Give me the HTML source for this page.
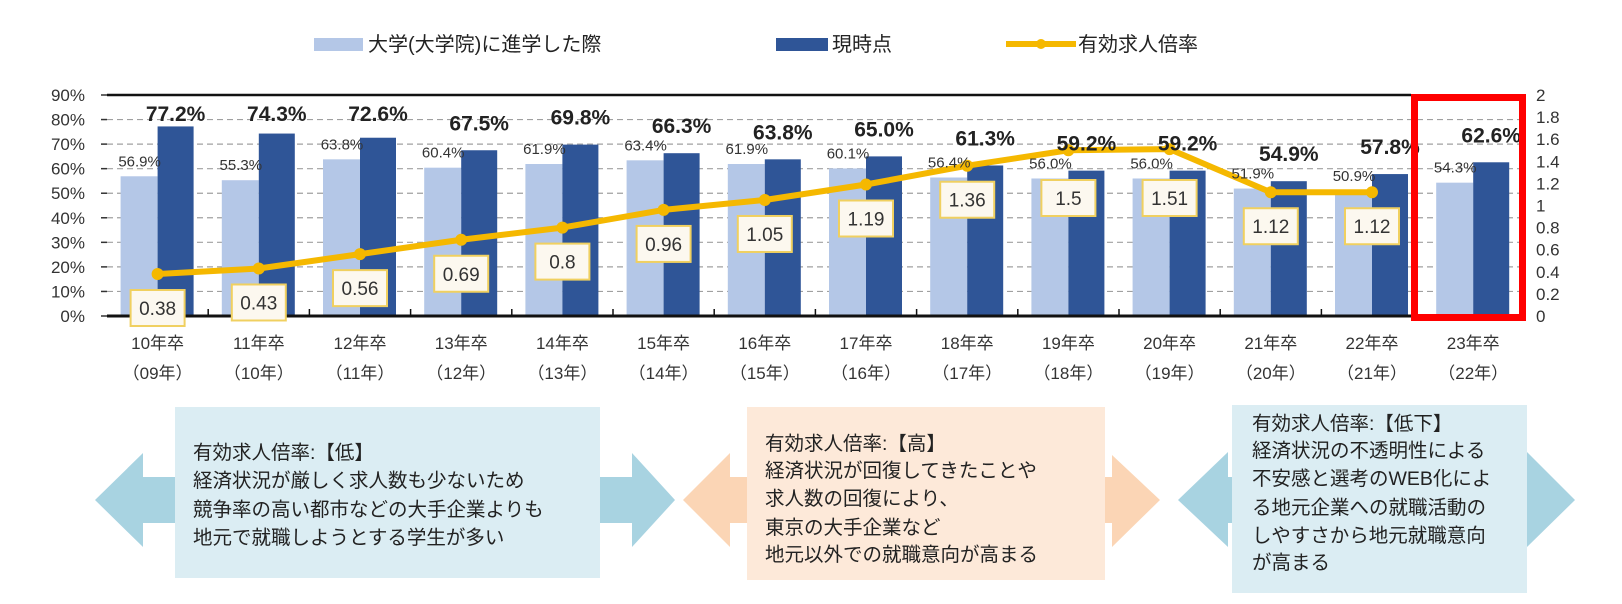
<!DOCTYPE html>
<html><head><meta charset="utf-8">
<style>
html,body{margin:0;padding:0;background:#fff;}
svg{display:block;font-family:"Liberation Sans","Noto Sans CJK JP",sans-serif;}
</style></head>
<body>
<svg id="chart" width="1622" height="604" viewBox="0 0 1622 604">
  <g id="legend">
    <g>
      <rect x="314" y="38" width="49" height="13" fill="#b4c7e7"/>
      <text x="368" y="51" font-size="20" fill="#222">大学(大学院)に進学した際</text>
    </g>
    <g>
      <rect x="776" y="38" width="52" height="13" fill="#2f5597"/>
      <text x="832" y="51" font-size="20" fill="#222">現時点</text>
    </g>
    <g>
      <line x1="1006" y1="44" x2="1076" y2="44" stroke="#f5b800" stroke-width="6"/>
      <circle cx="1041" cy="44" r="5" fill="#f5b800"/>
      <text x="1078" y="51" font-size="20" fill="#222">有効求人倍率</text>
    </g>
  </g>
  <g id="grid"></g>
  <g id="bars"></g>
  <g id="axes"></g>
  <g id="line"></g>
  <g id="labels"></g>
  <g>
    <rect x="1414.5" y="97.5" width="108" height="220" fill="none" stroke="#ff0000" stroke-width="7"/>
  </g>

  <!-- bottom explanation panels -->
  <g>
    <polygon points="175,477 143,477 143,453 95,500 143,547 143,523 175,523" fill="#a8d3e1"/>
    <polygon points="600,477 632,477 632,453 675,500 632,547 632,523 600,523" fill="#a8d3e1"/>
    <rect x="175" y="407" width="425" height="171" fill="#dbedf3"/>
    <text font-size="19.5" fill="#222">
      <tspan x="193" y="459">有効求人倍率:【低】</tspan>
      <tspan x="193" y="487">経済状況が厳しく求人数も少ないため</tspan>
      <tspan x="193" y="516">競争率の高い都市などの大手企業よりも</tspan>
      <tspan x="193" y="544">地元で就職しようとする学生が多い</tspan>
    </text>
  </g>
  <g>
    <polygon points="747,477 730,477 730,453 683,500 730,547 730,523 747,523" fill="#fbd5b5"/>
    <polygon points="1105,477 1112,477 1112,455 1160,500 1112,547 1112,523 1105,523" fill="#fbd5b5"/>
    <rect x="747" y="407" width="358" height="173" fill="#fde9d9"/>
    <text font-size="19.5" fill="#222">
      <tspan x="765" y="450">有効求人倍率:【高】</tspan>
      <tspan x="765" y="477">経済状況が回復してきたことや</tspan>
      <tspan x="765" y="505">求人数の回復により、</tspan>
      <tspan x="765" y="534">東京の大手企業など</tspan>
      <tspan x="765" y="561">地元以外での就職意向が高まる</tspan>
    </text>
  </g>
  <g>
    <polygon points="1232,477 1228,477 1228,452 1178,500 1228,547 1228,523 1232,523" fill="#a8d3e1"/>
    <polygon points="1527,477 1527,452 1575,500 1527,547 1527,523" fill="#a8d3e1"/>
    <rect x="1232" y="405" width="295" height="188" fill="#dbedf3"/>
    <text font-size="19.5" fill="#222">
      <tspan x="1252" y="430">有効求人倍率:【低下】</tspan>
      <tspan x="1252" y="457">経済状況の不透明性による</tspan>
      <tspan x="1252" y="485">不安感と選考のWEB化によ</tspan>
      <tspan x="1252" y="514">る地元企業への就職活動の</tspan>
      <tspan x="1252" y="542">しやすさから地元就職意向</tspan>
      <tspan x="1252" y="569">が高まる</tspan>
    </text>
  </g>
</svg>
<script>
const categories = ["10年卒","11年卒","12年卒","13年卒","14年卒","15年卒","16年卒","17年卒","18年卒","19年卒","20年卒","21年卒","22年卒","23年卒"];
const subLabels = ["（09年）","（10年）","（11年）","（12年）","（13年）","（14年）","（15年）","（16年）","（17年）","（18年）","（19年）","（20年）","（21年）","（22年）"];
const enrolledValues = [56.9,55.3,63.8,60.4,61.9,63.4,61.9,60.1,56.4,56.0,56.0,51.9,50.9,54.3];
const currentValues = [77.2,74.3,72.6,67.5,69.8,66.3,63.8,65.0,61.3,59.2,59.2,54.9,57.8,62.6];
const ratioValues = [0.38,0.43,0.56,0.69,0.8,0.96,1.05,1.19,1.36,1.5,1.51,1.12,1.12];
const leftTicks = [0,10,20,30,40,50,60,70,80,90];
const rightTicks = ["0","0.2","0.4","0.6","0.8","1","1.2","1.4","1.6","1.8","2"];

const NS = "http://www.w3.org/2000/svg";
const X0 = 107, STEP = 101.2, Y0 = 316, YTOP = 95;
const yL = v => Y0 - (v / 90) * (Y0 - YTOP);
const yR = v => Y0 - (v / 2) * (Y0 - YTOP);
const xC = i => X0 + STEP * (i + 0.5);
function mk(tag, attrs, parent, txt) {
  const e = document.createElementNS(NS, tag);
  for (const k in attrs) e.setAttribute(k, attrs[k]);
  if (txt !== undefined) e.textContent = txt;
  parent.appendChild(e);
  return e;
}
const grid = document.getElementById('grid');
const axes = document.getElementById('axes');
const bars = document.getElementById('bars');
const line = document.getElementById('line');
const labels = document.getElementById('labels');

leftTicks.forEach(t => {
  if (t > 0 && t < 90) {
    const g = mk('line', {x1: X0, x2: 1520, y1: yL(t), y2: yL(t), stroke: '#a0a0a0', 'stroke-width': 1.2, 'stroke-dasharray': '6,4'}, grid);
    
    
  }
  mk('line', {x1: X0 - 6, x2: X0, y1: yL(t), y2: yL(t), stroke: '#333', 'stroke-width': 1.5}, axes);
  const tl = mk('text', {x: 85, y: yL(t) + 6, 'font-size': 17, 'text-anchor': 'end', fill: '#333'}, axes, t + '%');
  
  
});
rightTicks.forEach((t, i) => {
  const tl = mk('text', {x: 1536, y: yR(i * 0.2) + 6, 'font-size': 17, fill: '#333'}, axes, t);
  
  
});
mk('line', {x1: X0, x2: 1411, y1: YTOP, y2: YTOP, stroke: '#111', 'stroke-width': 2.5}, axes);

categories.forEach((c, i) => {
  const cx = xC(i);
  const b1 = mk('rect', {x: cx - 37, y: yL(enrolledValues[i]), width: 37, height: Y0 - yL(enrolledValues[i]), fill: '#b4c7e7'}, bars);
  
  
  const b2 = mk('rect', {x: cx, y: yL(currentValues[i]), width: 36, height: Y0 - yL(currentValues[i]), fill: '#2f5597'}, bars);
  
  
  const l1 = mk('text', {x: cx - 18, y: yL(enrolledValues[i]) - 10, 'font-size': 15, 'text-anchor': 'middle', fill: '#333'}, labels, enrolledValues[i].toFixed(1) + '%');
  
  
  const ly = Math.max(yL(currentValues[i]) - 28, 113);
  const l2 = mk('text', {x: cx + 18, y: ly + 8, 'font-size': 21, 'font-weight': 'bold', 'text-anchor': 'middle', fill: '#222'}, labels, currentValues[i].toFixed(1) + '%');
  
  
  const x1 = mk('text', {x: cx, y: 349, 'font-size': 17, 'text-anchor': 'middle', fill: '#333'}, axes, c);
  
  
  const x2 = mk('text', {x: cx, y: 379, 'font-size': 17, 'text-anchor': 'middle', fill: '#333'}, axes, subLabels[i]);
  
  
  if (i > 0 && i < 13) mk('line', {x1: X0 + STEP * i, x2: X0 + STEP * i, y1: Y0, y2: Y0 - 7, stroke: '#111', 'stroke-width': 1.5}, axes);
});
mk('line', {x1: X0, x2: 1411, y1: Y0, y2: Y0, stroke: '#111', 'stroke-width': 3}, axes);

const pts = ratioValues.map((v, i) => xC(i) + ',' + yR(v)).join(' ');
const pl = mk('polyline', {points: pts, fill: 'none', stroke: '#f5b800', 'stroke-width': 6, 'stroke-linejoin': 'round'}, line);


ratioValues.forEach((v, i) => {
  const p = mk('circle', {cx: xC(i), cy: yR(v), r: 6, fill: '#f5b800'}, line);
  
  
});
ratioValues.forEach((v, i) => {
  const cy = Math.max(yR(v) + 34, 198);
  const cx = xC(i);
  const g = mk('g', {}, labels);
  
  
  mk('rect', {x: cx - 27, y: cy - 18, width: 54, height: 36, fill: '#fcf8ef', stroke: '#f0d060', 'stroke-width': 2}, g);
  mk('text', {x: cx, y: cy + 7, 'font-size': 19, 'text-anchor': 'middle', fill: '#333'}, g, String(v));
});
</script>
</body></html>
